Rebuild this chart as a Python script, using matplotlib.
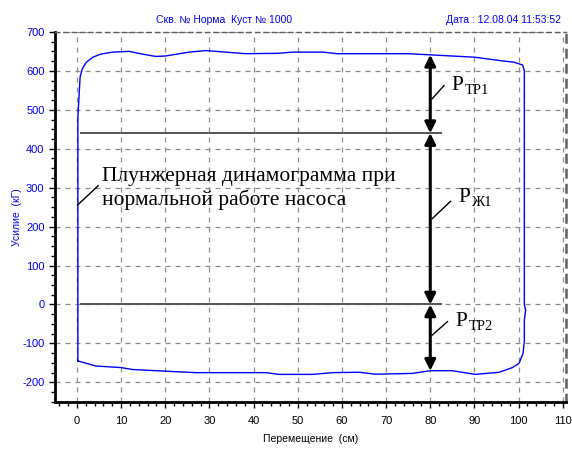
import numpy as np
import matplotlib.pyplot as plt
from matplotlib.ticker import MultipleLocator

plt.rcParams['font.family'] = ['Liberation Sans', 'DejaVu Sans']
plt.rcParams['axes.unicode_minus'] = False

# plunger dynamogram, one loop (displacement cm, load kG)
disp = [0.2, 0.2, 0.2, 0.7, 1.2, 2.1, 3.6, 5.4, 8.1, 11.8, 14.8, 17.8, 20.0,
        25.4, 29.2, 33.7, 38.2, 45.7, 48.7, 55.8, 58.8, 75.0, 80.0, 90.0,
        96.0, 99.0, 100.9, 101.3, 101.3, 101.6, 101.3, 101.3, 101.0, 100.1,
        98.6, 95.6, 90.2, 85.0, 80.0, 75.9, 67.6, 63.9, 57.9, 53.3, 45.8,
        42.8, 27.0, 23.2, 17.9, 12.6, 10.0, 4.3, 2.1, 0.2]
load = [-145, 200, 480, 584, 605, 622, 635, 643, 648, 650, 643, 637, 638,
        648, 652, 648, 644, 645, 648, 648, 644, 644, 641, 635,
        626, 622, 615, 600, 0, -15, -40, -95, -126, -151,
        -162, -174, -179.5, -170, -170, -177, -179, -174, -175, -179.5, -179.5,
        -175, -175, -173, -170, -167, -162, -158, -151, -145]

# force levels for the annotation arrows
x_arrow = 80
p_top = 641
p_static = 440
p_zero = 0
p_bottom = -170

x_ticks = np.arange(0, 111, 10)
y_ticks = np.arange(-200, 701, 100)

fig = plt.figure(figsize=(5.72, 4.49), dpi=100)
ax = fig.add_axes([0.096, 0.105, 0.894, 0.824])

ax.set_xlim(-5, 110.8)
ax.set_ylim(-250, 700)
ax.set_xticks(x_ticks)
ax.set_yticks(y_ticks)
ax.xaxis.set_minor_locator(MultipleLocator(2))
ax.yaxis.set_minor_locator(MultipleLocator(25))
ax.grid(True, which='major', color='#8c8c8c', linestyle=(0, (4, 4)), linewidth=0.9)
ax.set_axisbelow(True)

for s in ['left', 'bottom']:
    ax.spines[s].set_linewidth(2)
    ax.spines[s].set_color('black')
for s in ['top', 'right']:
    ax.spines[s].set_linestyle((0, (3, 3)))
    ax.spines[s].set_color('#606060')
    ax.spines[s].set_linewidth(1)
ax.spines['right'].set_linewidth(1.8)

ax.tick_params(axis='y', which='major', length=4, width=1, colors='black', labelcolor='blue', labelsize=8)
ax.tick_params(axis='y', which='minor', length=3, width=1, color='black')
ax.tick_params(axis='x', which='major', length=4, width=1, labelsize=8, pad=6)
ax.tick_params(axis='x', which='minor', length=3, width=1)
ax.tick_params(top=False, right=False, which='both')

ax.set_xlabel('Перемещение  (см)', fontsize=7.5, labelpad=6)
ax.set_ylabel('Усилие  (кГ)', fontsize=7.5, color='blue', labelpad=0)

ax.plot(disp, load, color='blue', linewidth=1)

# reference levels
ax.hlines([p_static, p_zero], 0.6, 82.7, color='#555555', linewidth=1.4)

arrow_kw = dict(arrowstyle='<|-|>', color='black', lw=2.2, mutation_scale=16,
                shrinkA=0, shrinkB=0)
for lo, hi in [(p_static, p_top), (p_zero, p_static), (p_bottom, p_zero)]:
    ax.annotate('', xy=(x_arrow, hi), xytext=(x_arrow, lo), arrowprops=arrow_kw)

serif = ['Liberation Serif', 'DejaVu Serif']
ax.text(5.6, 255, 'Плунжерная динамограмма при\nнормальной работе насоса',
        family=serif, fontsize=15.5, va='baseline', ha='left', linespacing=1.25)
ax.plot([0.1, 4.8], [255, 305], color='black', linewidth=1)

labels = [('ТР1', 552, (80.4, 528), (83.1, 562)),
          ('Ж1', 263, (80.4, 220), (84.6, 265)),
          ('ТР2', -55, (80.4, -79), (83.9, -44))]
for sub, yb, p0, p1 in labels:
    ax.plot([p0[0], p1[0]], [p0[1], p1[1]], color='black', linewidth=1)
    ax.annotate('P', xy=(p1[0] + 1.8, yb), family=serif, fontsize=15.5,
                va='baseline', ha='left')
    ax.annotate(sub, xy=(p1[0] + 1.8, yb), xytext=(9.5, -3), textcoords='offset points',
                family=serif, fontsize=10.5, va='baseline', ha='left')

fig.text(0.391, 0.955, 'Скв. № Норма  Куст № 1000', color='blue', fontsize=7.5,
         ha='center', va='center')
fig.text(0.98, 0.955, 'Дата : 12.08.04 11:53:52', color='blue', fontsize=7.5,
         ha='right', va='center')

fig.savefig('out.png', dpi=100)
